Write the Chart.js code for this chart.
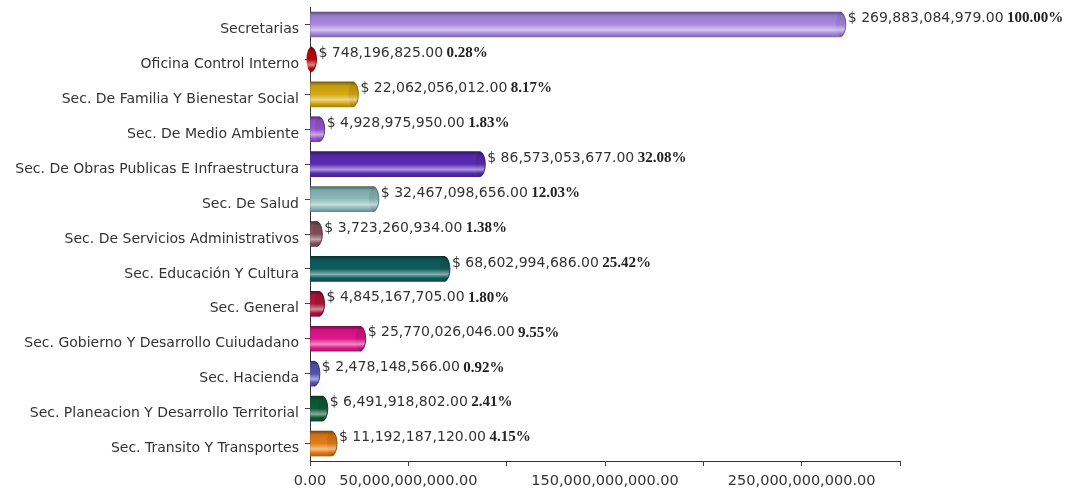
<!DOCTYPE html>
<html>
<head>
<meta charset="utf-8">
<script src="https://cdn.jsdelivr.net/npm/chart.js@4/dist/chart.umd.min.js"></script>
<style>
  html, body { margin: 0; padding: 0; background: #fff; }
  #wrap { width: 1078px; height: 495px; }
</style>
</head>
<body>
<div id="wrap"><canvas id="budgetChart"></canvas></div>
<script>
// Values
const categories = [
    "Secretarias",
    "Oficina Control Interno",
    "Sec. De Familia Y Bienestar Social",
    "Sec. De Medio Ambiente",
    "Sec. De Obras Publicas E Infraestructura",
    "Sec. De Salud",
    "Sec. De Servicios Administrativos",
    "Sec. Educación Y Cultura",
    "Sec. General",
    "Sec. Gobierno Y Desarrollo Cuiudadano",
    "Sec. Hacienda",
    "Sec. Planeacion Y Desarrollo Territorial",
    "Sec. Transito Y Transportes"
];
const amounts = [
    269883084979, 748196825, 22062056012, 4928975950, 86573053677,
    32467098656, 3723260934, 68602994686, 4845167705, 25770026046,
    2478148566, 6491918802, 11192187120
];
const percents = [
    "100.00%", "0.28%", "8.17%", "1.83%", "32.08%", "12.03%", "1.38%",
    "25.42%", "1.80%", "9.55%", "0.92%", "2.41%", "4.15%"
];
const axisMax = 300e9;
const axisStep = 50e9;
const axisLabels = ["0.00", "50,000,000,000.00", "150,000,000,000.00", "250,000,000,000.00"];

// one base colour per bar
const barColors = [
    "#a88ae0", "#c80808", "#d8aa12", "#9c58d6", "#5b2cb4", "#8cbaba", "#8a5560",
    "#0f5e5e", "#b3163e", "#e0168a", "#5a5ab8", "#0f5c38", "#e47e16"
];

const BAR_H = 25;
const CAP_RX = 5;

function mix(hex, target, t) {
    const a = parseInt(hex.slice(1), 16);
    const b = target === "white" ? 255 : 0;
    const r = Math.round(((a >> 16) & 255) * (1 - t) + b * t);
    const g = Math.round(((a >> 8) & 255) * (1 - t) + b * t);
    const bl = Math.round((a & 255) * (1 - t) + b * t);
    return "#" + ((1 << 24) + (r << 16) + (g << 8) + bl).toString(16).slice(1);
}

function money(v) {
    return v.toLocaleString("en-US", { minimumFractionDigits: 2, maximumFractionDigits: 2 });
}

function cylinder(c, top, h, base) {
    const g = c.createLinearGradient(0, top, 0, top + h);
    g.addColorStop(0, mix(base, "black", 0.45));
    g.addColorStop(0.15, mix(base, "black", 0.1));
    g.addColorStop(0.5, base);
    g.addColorStop(0.72, mix(base, "white", 0.5));
    g.addColorStop(0.86, base);
    g.addColorStop(1, mix(base, "black", 0.25));
    return g;
}

// Cylinder end caps and the value labels
const capsAndLabels = {
    id: "capsAndLabels",
    afterDatasetsDraw(chart) {
        const c = chart.ctx;
        const meta = chart.getDatasetMeta(0);
        meta.data.forEach((el, i) => {
            const base = barColors[i];
            const top = el.y - BAR_H / 2;
            c.save();
            c.beginPath();
            c.ellipse(el.x, el.y, CAP_RX, BAR_H / 2, 0, 0, Math.PI * 2);
            c.fillStyle = cylinder(c, top, BAR_H, mix(base, "black", 0.08));
            c.fill();
            c.beginPath();
            c.ellipse(el.x, el.y, CAP_RX, BAR_H / 2 - 1, 0, -Math.PI / 2, Math.PI / 2);
            c.strokeStyle = mix(base, "black", 0.35);
            c.lineWidth = 1;
            c.stroke();

            const txt = "$ " + money(amounts[i]) + " ";
            const x = el.x + CAP_RX + 2;
            const y = el.y - 6;
            c.textBaseline = "middle";
            c.textAlign = "left";
            c.fillStyle = "#333";
            c.font = "14px 'DejaVu Sans'";
            c.fillText(txt, x, y);
            const w = c.measureText(txt).width;
            c.font = "bold 15px 'Liberation Serif'";
            c.fillStyle = "#222";
            c.fillText(percents[i], x + w - 1, y);
            c.restore();
        });
    }
};

const ctx = document.getElementById("budgetChart").getContext("2d");
const budgetChart = new Chart(ctx, {
    type: "bar",
    data: {
        labels: categories,
        datasets: [{
            data: amounts,
            backgroundColor: (cx) => {
                const base = barColors[cx.dataIndex] || barColors[0];
                const y = cx.chart.scales.y;
                if (!y || cx.dataIndex === undefined) return base;
                const cy = y.getPixelForValue(cx.dataIndex);
                if (!Number.isFinite(cy)) return base;
                return cylinder(cx.chart.ctx, cy - BAR_H / 2, BAR_H, base);
            },
            borderWidth: 0,
            barThickness: BAR_H
        }]
    },
    options: {
        indexAxis: "y",
        responsive: true,
        maintainAspectRatio: false,
        animation: false,
        layout: { padding: { top: 7, right: 178, left: 0, bottom: 0 } },
        plugins: {
            legend: { display: false },
            tooltip: { enabled: false }
        },
        scales: {
            x: {
                min: 0,
                max: axisMax,
                ticks: {
                    stepSize: axisStep,
                    autoSkip: false,
                    maxRotation: 0,
                    color: "#333",
                    font: { family: "DejaVu Sans", size: 14.5 },
                    padding: 7,
                    callback: (v) => axisLabels.includes(money(v)) ? money(v) : ""
                },
                grid: { drawOnChartArea: false, tickLength: 5, color: "#444" },
                border: { display: true, color: "#333" },
                afterFit: (s) => { s.height = 34; }
            },
            y: {
                ticks: {
                    color: "#333",
                    font: { family: "DejaVu Sans", size: 14 },
                    padding: 6,
                    labelOffset: 5
                },
                grid: { drawOnChartArea: false, tickLength: 5, color: "#444", offset: false },
                border: { display: true, color: "#333" },
                afterFit: (s) => { s.width = 310; s.paddingTop = 0; s.paddingBottom = 0; }
            }
        }
    },
    plugins: [capsAndLabels]
});
</script>
</body>
</html>
